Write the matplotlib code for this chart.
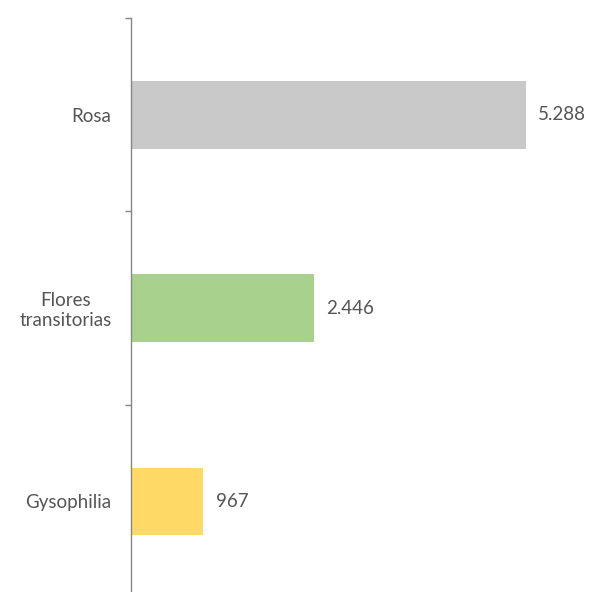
import matplotlib.pyplot as plt
import numpy as np

plt.rcParams['font.family'] = ['Lato', 'DejaVu Sans']

categorias = ['Rosa', 'Flores\ntransitorias', 'Gysophilia']
valores = [5288, 2446, 967]
etiquetas = ['5.288', '2.446', '967']
colores = ['#C9C9C9', '#A9D18E', '#FFD966']

fig = plt.figure(figsize=(5.9, 5.92), dpi=100)
ax = fig.add_axes([131 / 590, -6 / 592, 448 / 590, 580 / 592])

y = np.arange(len(categorias))
ax.barh(y, valores, height=0.35, color=colores)

for yi, v, txt in zip(y, valores, etiquetas):
    ax.annotate(txt, (v, yi), xytext=(9, 0), textcoords='offset points',
                va='center', ha='left', fontsize=13.5, color='#555555')

ax.set_xlim(0, 6000)
ax.set_ylim(len(categorias) - 0.5, -0.5)

# marcas en los limites entre categorias, etiquetas en el centro
ax.set_yticks(np.arange(len(categorias) + 1) - 0.5)
ax.set_yticklabels([])
ax.set_yticks(y, minor=True)
ax.set_yticklabels(categorias, minor=True, fontsize=13.5, color='#555555')
for t in ax.get_yticklabels(minor=True):
    t.set_multialignment('center')
ax.tick_params(axis='y', which='major', length=4, width=1, color='#868686')
ax.tick_params(axis='y', which='minor', length=0, pad=14)

ax.set_xticks([])
for s in ['top', 'right', 'bottom']:
    ax.spines[s].set_visible(False)
ax.spines['left'].set_color('#868686')
ax.spines['left'].set_linewidth(1)

fig.savefig('out.png', dpi=100)
